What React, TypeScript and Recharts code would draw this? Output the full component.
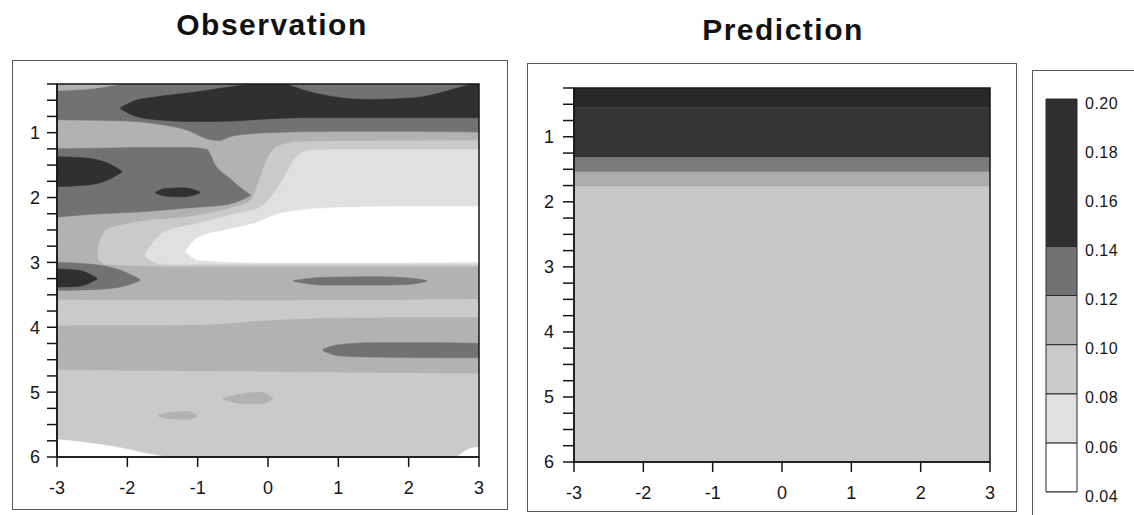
import { ComposedChart, Area, XAxis, YAxis, ReferenceArea } from "recharts";

// [x, top depth, bottom depth]
type Pt = [number, number, number];

const LEVELS = [0.04, 0.06, 0.08, 0.1, 0.12, 0.14, 0.2];
const FILLS = ["#ffffff", "#e0e0e0", "#cacaca", "#b2b2b2", "#727272", "#303030"];

const xTicks = [-3, -2, -1, 0, 1, 2, 3];
const yTicks = [
  0.25, 0.5, 0.75, 1, 1.25, 1.5, 1.75, 2, 2.25, 2.5, 2.75, 3,
  3.25, 3.5, 3.75, 4, 4.25, 4.5, 4.75, 5, 5.25, 5.5, 5.75, 6,
];
const barTicks = [0.04, 0.06, 0.08, 0.1, 0.12, 0.14, 0.16, 0.18, 0.2];

// Observation regions, painted back to front
const obsBase: Pt[] = [[-3, 0.25, 6], [3, 0.25, 6]];
const obsUpper: Pt[] = [[-3, 0.25, 3.57], [0, 0.25, 3.58], [3, 0.25, 3.56]];
const obsMidBand: Pt[] = [[-3, 3.98, 4.65], [-1, 3.97, 4.67], [0, 3.9, 4.68], [1, 3.86, 4.69], [3, 3.85, 4.71]];
const obsLight: Pt[] = [
  [-2.42, 2.78, 2.95], [-2.3, 2.5, 3.03], [-1.8, 2.37, 3.05], [-1.15, 2.3, 3.06],
  [-0.5, 2.15, 3.06], [-0.25, 2.05, 3.06], [-0.12, 1.72, 3.06], [0, 1.38, 3.06],
  [0.15, 1.2, 3.06], [0.5, 1.14, 3.06], [1.5, 1.13, 3.06], [3, 1.12, 3.06],
];
const obsLighter: Pt[] = [
  [-1.75, 2.88, 2.9], [-1.5, 2.55, 3.03], [-1.0, 2.4, 3.03], [-0.5, 2.26, 3.03],
  [-0.1, 2.14, 3.03], [0.2, 1.75, 3.03], [0.4, 1.38, 3.03], [0.6, 1.27, 3.03],
  [1.5, 1.26, 3.03], [3, 1.26, 3.03],
];
const obsWhite: Pt[] = [
  [-1.17, 2.82, 2.84], [-1.0, 2.62, 2.96], [-0.6, 2.5, 2.99], [-0.2, 2.4, 3.0],
  [0.2, 2.24, 3.0], [0.9, 2.16, 3.0], [2, 2.14, 3.0], [3, 2.14, 2.99],
];
const obsTopGray: Pt[] = [
  [-3, 0.25, 0.8], [-2, 0.25, 0.82], [-1.5, 0.25, 0.88], [-1.15, 0.25, 0.96],
  [-0.85, 0.25, 1.1], [-0.7, 0.25, 1.12], [-0.5, 0.25, 1.05], [0, 0.25, 1.0],
  [1, 0.25, 0.98], [2, 0.25, 0.98], [3, 0.25, 0.99],
];
const obsTopDark: Pt[] = [
  [-2.1, 0.62, 0.63], [-1.9, 0.51, 0.74], [-1.6, 0.45, 0.8], [-1.0, 0.37, 0.83],
  [-0.5, 0.29, 0.82], [-0.2, 0.25, 0.8], [0.5, 0.25, 0.77], [3, 0.25, 0.77],
];
const obsTopLens: Pt[] = [
  [0.27, 0.25, 0.25], [0.7, 0.25, 0.39], [1.4, 0.25, 0.48], [2.1, 0.25, 0.45],
  [2.7, 0.25, 0.3], [2.87, 0.25, 0.25],
];
const obsCorner: Pt[] = [[-3, 0.25, 0.35], [-2.5, 0.25, 0.32], [-2.1, 0.25, 0.25]];
const obsLeftGray: Pt[] = [
  [-3, 1.25, 2.3], [-2.4, 1.24, 2.25], [-1.8, 1.23, 2.22], [-1.15, 1.23, 2.16],
  [-0.87, 1.26, 2.14], [-0.75, 1.5, 2.13], [-0.55, 1.7, 2.1], [-0.4, 1.84, 2.05],
  [-0.25, 1.96, 1.97],
];
const obsLeftDark: Pt[] = [[-3, 1.37, 1.83], [-2.6, 1.39, 1.81], [-2.3, 1.46, 1.74], [-2.08, 1.59, 1.61]];
const obsSmallDark: Pt[] = [[-1.6, 1.92, 1.93], [-1.45, 1.86, 1.98], [-1.2, 1.85, 1.99], [-0.97, 1.91, 1.93]];
const obsLowGray: Pt[] = [[-3, 3.0, 3.43], [-2.5, 3.03, 3.42], [-2.1, 3.12, 3.38], [-1.82, 3.26, 3.28]];
const obsLowDark: Pt[] = [[-3, 3.1, 3.38], [-2.7, 3.12, 3.37], [-2.43, 3.24, 3.26]];
const obsStreakA: Pt[] = [[0.36, 3.28, 3.29], [0.8, 3.23, 3.35], [1.5, 3.22, 3.35], [2.0, 3.24, 3.34], [2.26, 3.28, 3.29]];
const obsStreakB: Pt[] = [[0.78, 4.34, 4.36], [1.0, 4.27, 4.44], [1.5, 4.24, 4.46], [2.5, 4.24, 4.47], [3, 4.25, 4.47]];
const obsSpotA: Pt[] = [[-0.64, 5.1, 5.11], [-0.4, 5.03, 5.17], [-0.1, 5.0, 5.18], [0.07, 5.09, 5.1]];
const obsSpotB: Pt[] = [[-1.56, 5.36, 5.37], [-1.4, 5.31, 5.41], [-1.15, 5.3, 5.42], [-1.0, 5.36, 5.37]];
const obsBottomLeft: Pt[] = [[-3, 5.73, 6], [-2.5, 5.79, 6], [-2.0, 5.88, 6], [-1.8, 5.93, 6], [-1.44, 6, 6]];
const obsBottomRight: Pt[] = [[2.69, 6, 6], [2.85, 5.88, 6], [3, 5.85, 6]];

// [points, colour level]
const obsLayers: [Pt[], number][] = [
  [obsBase, 2], [obsUpper, 3], [obsMidBand, 3], [obsLight, 2], [obsLighter, 1],
  [obsWhite, 0], [obsTopGray, 4], [obsTopDark, 5], [obsTopLens, 4], [obsCorner, 3],
  [obsLeftGray, 4], [obsLeftDark, 5], [obsSmallDark, 5], [obsLowGray, 4], [obsLowDark, 5],
  [obsStreakA, 4], [obsStreakB, 4], [obsSpotA, 3], [obsSpotB, 3],
  [obsBottomLeft, 0], [obsBottomRight, 0],
];

// Prediction: horizontal bands
const predEdges = [0.25, 0.55, 1.32, 1.54, 1.77, 6];
const predFills = ["#282828", "#363636", "#7b7b7b", "#acacac", "#c8c8c8"];

const toData = (pts: Pt[]) => pts.map(([x, lo, hi]) => ({ x, r: [lo, hi] }));

const predLayers = predFills.map((fill, i) => ({
  fill,
  data: toData([[-3, predEdges[i], predEdges[i + 1]], [3, predEdges[i], predEdges[i + 1]]]),
}));
const obsAreas = obsLayers.map(([pts, lvl]) => ({ fill: FILLS[lvl], data: toData(pts) }));
const barAreas = FILLS.map((fill, i) => ({
  fill,
  data: toData([[0, LEVELS[i], LEVELS[i + 1]], [1, LEVELS[i], LEVELS[i + 1]]]),
}));

const INK = "#161616";

function Panel({ layers, width, margin, yTickSize, yTickMargin }: any) {
  return (
    <ComposedChart width={width} height={515} margin={margin}>
      <XAxis
        dataKey="x"
        type="number"
        domain={[-3, 3]}
        ticks={xTicks}
        interval={0}
        allowDataOverflow
        height={30}
        tickSize={10}
        tickMargin={14}
        stroke={INK}
        strokeWidth={1.5}
        tick={{ fill: INK, fontSize: 18 }}
      />
      <YAxis
        type="number"
        domain={[0.25, 6]}
        reversed
        ticks={yTicks}
        interval={0}
        allowDataOverflow
        width={40}
        tickSize={yTickSize}
        tickMargin={yTickMargin}
        stroke={INK}
        strokeWidth={1.5}
        tick={{ fill: INK, fontSize: 18 }}
        tickFormatter={(v: number) => (Number.isInteger(v) ? String(v) : "")}
      />
      {layers.map((l: any, i: number) => (
        <Area
          key={i}
          data={l.data}
          dataKey="r"
          type="monotone"
          fill={l.fill}
          fillOpacity={1}
          stroke={l.fill}
          strokeWidth={0.6}
          dot={false}
          activeDot={false}
          isAnimationActive={false}
        />
      ))}
      <ReferenceArea x1={-3} x2={3} y1={0.25} y2={6} fill="none" stroke={INK} strokeWidth={1.5} ifOverflow="visible" />
    </ComposedChart>
  );
}

function ColorBar() {
  return (
    <ComposedChart width={104} height={515} margin={{ top: 99, right: 7, bottom: 23, left: 16 }}>
      <XAxis type="number" dataKey="x" domain={[0, 1]} hide allowDataOverflow />
      <YAxis
        orientation="right"
        type="number"
        domain={[0.04, 0.2]}
        ticks={barTicks}
        interval={0}
        allowDataOverflow
        axisLine={false}
        tickLine={false}
        tickSize={0}
        tickMargin={8}
        width={50}
        tick={{ fill: INK, fontSize: 16, letterSpacing: 0.5, dy: 4 }}
        tickFormatter={(v: number) => v.toFixed(2)}
      />
      {barAreas.map((b, i) => (
        <Area
          key={i}
          data={b.data}
          dataKey="r"
          type="linear"
          fill={b.fill}
          fillOpacity={1}
          stroke="#2a2a2a"
          strokeWidth={1}
          dot={false}
          activeDot={false}
          isAnimationActive={false}
        />
      ))}
      <ReferenceArea x1={0} x2={1} y1={0.04} y2={0.2} fill="none" stroke="#2a2a2a" strokeWidth={1} ifOverflow="visible" />
    </ComposedChart>
  );
}

const box = (left: number, top: number, width: number, height: number) => ({
  position: "absolute" as const,
  left,
  top,
  width,
  height,
  border: "1.5px solid #5a5a5a",
  boxSizing: "border-box" as const,
});

const title = (left: number, top: number) => ({
  position: "absolute" as const,
  left,
  top,
  width: 300,
  textAlign: "center" as const,
  fontSize: 30,
  lineHeight: "30px",
  fontWeight: 700,
  letterSpacing: 1.5,
  color: "#111",
});

export default function App() {
  return (
    <div
      style={{
        position: "absolute",
        left: 0,
        top: 0,
        width: 1134,
        height: 515,
        overflow: "hidden",
        background: "#fff",
        fontFamily: "'Liberation Sans', Arial, Helvetica, sans-serif",
      }}
    >
      <div style={box(12, 60, 496, 450)} />
      <div style={box(527, 63, 490, 449)} />
      <div style={box(1032, 70, 120, 460)} />
      <div style={title(122, 10)}>Observation</div>
      <div style={title(633, 15)}>Prediction</div>
      <div style={{ position: "absolute", left: 0, top: 0 }}>
        <Panel layers={obsAreas} width={500} margin={{ top: 84, right: 21, bottom: 28, left: 17 }} yTickSize={10} yTickMargin={7} />
      </div>
      <div style={{ position: "absolute", left: 520, top: 0 }}>
        <Panel layers={predLayers} width={490} margin={{ top: 88, right: 20, bottom: 23, left: 14 }} yTickSize={11} yTickMargin={9} />
      </div>
      <div style={{ position: "absolute", left: 1030, top: 0 }}>
        <ColorBar />
      </div>
    </div>
  );
}
